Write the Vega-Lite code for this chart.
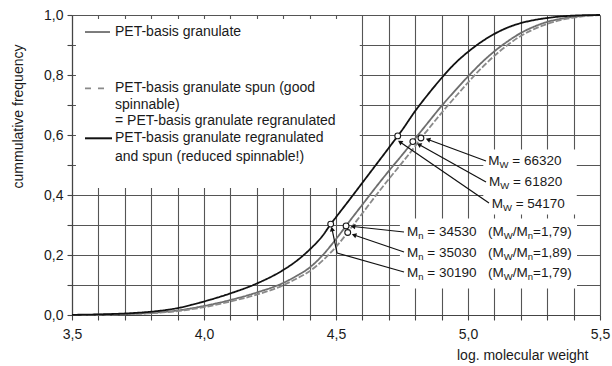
{
  "$schema": "https://vega.github.io/schema/vega-lite/v6.json",
  "width": 528,
  "height": 300,
  "autosize": {"type": "none"},
  "padding": {"left": 72, "top": 15, "right": 12, "bottom": 51},
  "background": "white",
  "data": {"values": [{}]},
  "config": {
    "view": {"stroke": null},
    "font": "Liberation Sans",
    "text": {"font": "Liberation Sans", "fontSize": 13.5, "color": "#1a1a1a", "align": "left", "baseline": "middle"},
    "axis": {
      "grid": true, "gridColor": "#555555", "gridWidth": 1.1, "gridOpacity": 1,
      "domainColor": "#444444", "domainWidth": 1.2,
      "tickColor": "#444444", "tickSize": 5, "tickWidth": 1.1, "tickCount": 40,
      "labelFont": "Liberation Sans", "labelFontSize": 14, "labelColor": "#1a1a1a",
      "labelOverlap": false, "labelFlush": false, "labelBound": false,
      "titleFont": "Liberation Sans", "titleFontSize": 14, "titleFontWeight": "normal", "titleColor": "#1a1a1a"
    }
  },
  "datasets": {
    "curves": [
      {"sample": "granulate", "logM": 3.5, "F": 0.0003},
      {"sample": "granulate", "logM": 3.6, "F": 0.001},
      {"sample": "granulate", "logM": 3.7, "F": 0.003},
      {"sample": "granulate", "logM": 3.8, "F": 0.007},
      {"sample": "granulate", "logM": 3.9, "F": 0.015},
      {"sample": "granulate", "logM": 4.0, "F": 0.03},
      {"sample": "granulate", "logM": 4.1, "F": 0.05},
      {"sample": "granulate", "logM": 4.2, "F": 0.075},
      {"sample": "granulate", "logM": 4.3, "F": 0.107},
      {"sample": "granulate", "logM": 4.35, "F": 0.13},
      {"sample": "granulate", "logM": 4.4, "F": 0.158},
      {"sample": "granulate", "logM": 4.45, "F": 0.2},
      {"sample": "granulate", "logM": 4.5, "F": 0.253},
      {"sample": "granulate", "logM": 4.538, "F": 0.297},
      {"sample": "granulate", "logM": 4.55, "F": 0.311},
      {"sample": "granulate", "logM": 4.6, "F": 0.368},
      {"sample": "granulate", "logM": 4.65, "F": 0.425},
      {"sample": "granulate", "logM": 4.7, "F": 0.48},
      {"sample": "granulate", "logM": 4.75, "F": 0.533},
      {"sample": "granulate", "logM": 4.791, "F": 0.578},
      {"sample": "granulate", "logM": 4.8, "F": 0.588},
      {"sample": "granulate", "logM": 4.85, "F": 0.643},
      {"sample": "granulate", "logM": 4.9, "F": 0.697},
      {"sample": "granulate", "logM": 4.95, "F": 0.747},
      {"sample": "granulate", "logM": 5.0, "F": 0.795},
      {"sample": "granulate", "logM": 5.05, "F": 0.84},
      {"sample": "granulate", "logM": 5.1, "F": 0.879},
      {"sample": "granulate", "logM": 5.15, "F": 0.912},
      {"sample": "granulate", "logM": 5.2, "F": 0.94},
      {"sample": "granulate", "logM": 5.25, "F": 0.961},
      {"sample": "granulate", "logM": 5.3, "F": 0.977},
      {"sample": "granulate", "logM": 5.35, "F": 0.987},
      {"sample": "granulate", "logM": 5.4, "F": 0.994},
      {"sample": "granulate", "logM": 5.45, "F": 0.998},
      {"sample": "granulate", "logM": 5.5, "F": 1.0},
      {"sample": "granulate spun", "logM": 3.5, "F": 0.0002},
      {"sample": "granulate spun", "logM": 3.6, "F": 0.0008},
      {"sample": "granulate spun", "logM": 3.7, "F": 0.0025},
      {"sample": "granulate spun", "logM": 3.8, "F": 0.006},
      {"sample": "granulate spun", "logM": 3.9, "F": 0.013},
      {"sample": "granulate spun", "logM": 4.0, "F": 0.026},
      {"sample": "granulate spun", "logM": 4.1, "F": 0.045},
      {"sample": "granulate spun", "logM": 4.2, "F": 0.068},
      {"sample": "granulate spun", "logM": 4.3, "F": 0.099},
      {"sample": "granulate spun", "logM": 4.35, "F": 0.121},
      {"sample": "granulate spun", "logM": 4.4, "F": 0.146},
      {"sample": "granulate spun", "logM": 4.45, "F": 0.182},
      {"sample": "granulate spun", "logM": 4.5, "F": 0.227},
      {"sample": "granulate spun", "logM": 4.544, "F": 0.275},
      {"sample": "granulate spun", "logM": 4.55, "F": 0.282},
      {"sample": "granulate spun", "logM": 4.6, "F": 0.339},
      {"sample": "granulate spun", "logM": 4.65, "F": 0.397},
      {"sample": "granulate spun", "logM": 4.7, "F": 0.453},
      {"sample": "granulate spun", "logM": 4.75, "F": 0.507},
      {"sample": "granulate spun", "logM": 4.8, "F": 0.563},
      {"sample": "granulate spun", "logM": 4.822, "F": 0.59},
      {"sample": "granulate spun", "logM": 4.85, "F": 0.62},
      {"sample": "granulate spun", "logM": 4.9, "F": 0.674},
      {"sample": "granulate spun", "logM": 4.95, "F": 0.725},
      {"sample": "granulate spun", "logM": 5.0, "F": 0.775},
      {"sample": "granulate spun", "logM": 5.05, "F": 0.822},
      {"sample": "granulate spun", "logM": 5.1, "F": 0.864},
      {"sample": "granulate spun", "logM": 5.15, "F": 0.9},
      {"sample": "granulate spun", "logM": 5.2, "F": 0.93},
      {"sample": "granulate spun", "logM": 5.25, "F": 0.953},
      {"sample": "granulate spun", "logM": 5.3, "F": 0.97},
      {"sample": "granulate spun", "logM": 5.35, "F": 0.983},
      {"sample": "granulate spun", "logM": 5.4, "F": 0.991},
      {"sample": "granulate spun", "logM": 5.45, "F": 0.997},
      {"sample": "granulate spun", "logM": 5.5, "F": 1.0},
      {"sample": "regranulated and spun", "logM": 3.5, "F": 0.0005},
      {"sample": "regranulated and spun", "logM": 3.6, "F": 0.002},
      {"sample": "regranulated and spun", "logM": 3.7, "F": 0.005},
      {"sample": "regranulated and spun", "logM": 3.8, "F": 0.011},
      {"sample": "regranulated and spun", "logM": 3.9, "F": 0.023},
      {"sample": "regranulated and spun", "logM": 4.0, "F": 0.045},
      {"sample": "regranulated and spun", "logM": 4.1, "F": 0.072},
      {"sample": "regranulated and spun", "logM": 4.2, "F": 0.105},
      {"sample": "regranulated and spun", "logM": 4.3, "F": 0.15},
      {"sample": "regranulated and spun", "logM": 4.35, "F": 0.18},
      {"sample": "regranulated and spun", "logM": 4.4, "F": 0.218},
      {"sample": "regranulated and spun", "logM": 4.45, "F": 0.265},
      {"sample": "regranulated and spun", "logM": 4.48, "F": 0.303},
      {"sample": "regranulated and spun", "logM": 4.5, "F": 0.326},
      {"sample": "regranulated and spun", "logM": 4.55, "F": 0.383},
      {"sample": "regranulated and spun", "logM": 4.6, "F": 0.441},
      {"sample": "regranulated and spun", "logM": 4.65, "F": 0.499},
      {"sample": "regranulated and spun", "logM": 4.7, "F": 0.557},
      {"sample": "regranulated and spun", "logM": 4.734, "F": 0.597},
      {"sample": "regranulated and spun", "logM": 4.75, "F": 0.616},
      {"sample": "regranulated and spun", "logM": 4.8, "F": 0.68},
      {"sample": "regranulated and spun", "logM": 4.85, "F": 0.737},
      {"sample": "regranulated and spun", "logM": 4.9, "F": 0.79},
      {"sample": "regranulated and spun", "logM": 4.95, "F": 0.838},
      {"sample": "regranulated and spun", "logM": 5.0, "F": 0.877},
      {"sample": "regranulated and spun", "logM": 5.05, "F": 0.91},
      {"sample": "regranulated and spun", "logM": 5.1, "F": 0.937},
      {"sample": "regranulated and spun", "logM": 5.15, "F": 0.958},
      {"sample": "regranulated and spun", "logM": 5.2, "F": 0.973},
      {"sample": "regranulated and spun", "logM": 5.25, "F": 0.983},
      {"sample": "regranulated and spun", "logM": 5.3, "F": 0.99},
      {"sample": "regranulated and spun", "logM": 5.35, "F": 0.995},
      {"sample": "regranulated and spun", "logM": 5.4, "F": 0.998},
      {"sample": "regranulated and spun", "logM": 5.45, "F": 0.9995},
      {"sample": "regranulated and spun", "logM": 5.5, "F": 1.0}
    ],
    "averages": [
      {"sample": "regranulated and spun", "stat": "Mw", "M": 54170, "logM": 4.7338, "F": 0.597},
      {"sample": "granulate", "stat": "Mw", "M": 61820, "logM": 4.7911, "F": 0.578},
      {"sample": "granulate spun", "stat": "Mw", "M": 66320, "logM": 4.8217, "F": 0.59},
      {"sample": "regranulated and spun", "stat": "Mn", "M": 30190, "logM": 4.4799, "F": 0.303},
      {"sample": "granulate", "stat": "Mn", "M": 34530, "logM": 4.5382, "F": 0.297},
      {"sample": "granulate spun", "stat": "Mn", "M": 35030, "logM": 4.5444, "F": 0.275}
    ]
  },
  "layer": [
    {
      "mark": {"type": "rect", "fill": "white"},
      "encoding": {
        "x": {
          "datum": 3.515,
          "scale": {"domain": [3.5, 5.5], "nice": false, "zero": false},
          "axis": {
            "values": [3.5, 3.6, 3.7, 3.8, 3.9, 4.0, 4.1, 4.2, 4.3, 4.4, 4.5, 4.6, 4.7, 4.8, 4.9, 5.0, 5.1, 5.2, 5.3, 5.4, 5.5],
            "labelExpr": "abs(datum.value * 2 - round(datum.value * 2)) < 0.01 ? replace(format(datum.value, '.1f'), '.', ',') : ''",
            "labelPadding": 7,
            "title": "log. molecular weight",
            "titleAnchor": "end", "titleAlign": "right", "titleX": 516, "titleY": 40, "titleBaseline": "middle"
          }
        },
        "x2": {"datum": 4.59},
        "y": {
          "datum": 0.987,
          "scale": {"domain": [0, 1], "nice": false, "zero": false},
          "axis": {
            "values": [0, 0.1, 0.2, 0.3, 0.4, 0.5, 0.6, 0.7, 0.8, 0.9, 1.0],
            "labelExpr": "abs(datum.value * 5 - round(datum.value * 5)) < 0.01 ? replace(format(datum.value, '.1f'), '.', ',') : ''",
            "labelPadding": 4,
            "title": "cummulative frequency",
            "titleX": -54, "titleY": 101, "titleAlign": "center", "titleBaseline": "middle"
          }
        },
        "y2": {"datum": 0.423}
      }
    },
    {"mark": {"type": "rect", "fill": "white"},
     "encoding": {"x": {"datum": 5.058}, "x2": {"datum": 5.412}, "y": {"datum": 0.552}, "y2": {"datum": 0.335}}},
    {"mark": {"type": "rect", "fill": "white"},
     "encoding": {"x": {"datum": 4.742}, "x2": {"datum": 5.413}, "y": {"datum": 0.322}, "y2": {"datum": 0.088}}},
    {
      "data": {"name": "curves"},
      "mark": {"type": "line", "strokeWidth": 1.8, "interpolate": "monotone"},
      "encoding": {
        "x": {"field": "logM", "type": "quantitative"},
        "y": {"field": "F", "type": "quantitative"},
        "color": {
          "field": "sample", "type": "nominal",
          "scale": {"domain": ["granulate", "granulate spun", "regranulated and spun"], "range": ["#6e6e6e", "#8a8a8a", "#111111"]},
          "legend": null
        },
        "strokeDash": {
          "field": "sample", "type": "nominal",
          "scale": {"domain": ["granulate", "granulate spun", "regranulated and spun"], "range": [[1, 0], [6, 2], [1, 0]]},
          "legend": null
        }
      }
    },
    {"mark": {"type": "rule", "color": "#6e6e6e", "strokeWidth": 1.8},
     "encoding": {"x": {"datum": 3.5492}, "x2": {"datum": 3.6439}, "y": {"datum": 0.9433}}},
    {"mark": {"type": "rule", "color": "#8a8a8a", "strokeWidth": 1.8, "strokeDash": [6, 7]},
     "encoding": {"x": {"datum": 3.5492}, "x2": {"datum": 3.625}, "y": {"datum": 0.7557}}},
    {"mark": {"type": "rule", "color": "#111111", "strokeWidth": 2},
     "encoding": {"x": {"datum": 3.5492}, "x2": {"datum": 3.6515}, "y": {"datum": 0.589}}},
    {
      "encoding": {"x": {"datum": 3.6629}},
      "layer": [
        {"mark": {"type": "text", "text": "PET-basis granulate", "fontSize": 14}, "encoding": {"y": {"datum": 0.9433}}},
        {"mark": {"type": "text", "text": "PET-basis granulate spun (good", "fontSize": 14}, "encoding": {"y": {"datum": 0.7557}}},
        {"mark": {"type": "text", "text": "spinnable)", "fontSize": 14}, "encoding": {"y": {"datum": 0.70}}},
        {"mark": {"type": "text", "text": "= PET-basis granulate regranulated", "fontSize": 14}, "encoding": {"y": {"datum": 0.6477}}},
        {"mark": {"type": "text", "text": "PET-basis granulate regranulated", "fontSize": 14}, "encoding": {"y": {"datum": 0.589}}},
        {"mark": {"type": "text", "text": "and spun (reduced spinnable!)", "fontSize": 14}, "encoding": {"y": {"datum": 0.5277}}}
      ]
    },
    {"mark": {"type": "rule", "color": "#111111", "strokeWidth": 1.2},
     "encoding": {"x": {"datum": 5.0682}, "y": {"datum": 0.5133}, "x2": {"datum": 4.8485}, "y2": {"datum": 0.585}}},
    {"mark": {"type": "rule", "color": "#111111", "strokeWidth": 1.2},
     "encoding": {"x": {"datum": 5.0682}, "y": {"datum": 0.4433}, "x2": {"datum": 4.8144}, "y2": {"datum": 0.5683}}},
    {"mark": {"type": "rule", "color": "#111111", "strokeWidth": 1.2},
     "encoding": {"x": {"datum": 5.0795}, "y": {"datum": 0.3733}, "x2": {"datum": 4.7424}, "y2": {"datum": 0.5767}}},
    {"mark": {"type": "rule", "color": "#111111", "strokeWidth": 1.2},
     "encoding": {"x": {"datum": 4.7576}, "y": {"datum": 0.2767}, "x2": {"datum": 4.5644}, "y2": {"datum": 0.295}}},
    {"mark": {"type": "rule", "color": "#111111", "strokeWidth": 1.2},
     "encoding": {"x": {"datum": 4.7576}, "y": {"datum": 0.21}, "x2": {"datum": 4.5682}, "y2": {"datum": 0.2667}}},
    {"mark": {"type": "rule", "color": "#111111", "strokeWidth": 1.2},
     "encoding": {"x": {"datum": 4.7576}, "y": {"datum": 0.1433}, "x2": {"datum": 4.5038}, "y2": {"datum": 0.2067}}},
    {"mark": {"type": "rule", "color": "#111111", "strokeWidth": 1.2},
     "encoding": {"x": {"datum": 4.5038}, "y": {"datum": 0.2067}, "x2": {"datum": 4.4848}, "y2": {"datum": 0.2867}}},
    {"mark": {"type": "point", "shape": "triangle-up", "filled": true, "color": "#111111", "opacity": 1, "size": 28, "angle": 290},
     "encoding": {"x": {"datum": 4.8485}, "y": {"datum": 0.585}}},
    {"mark": {"type": "point", "shape": "triangle-up", "filled": true, "color": "#111111", "opacity": 1, "size": 28, "angle": 299},
     "encoding": {"x": {"datum": 4.8144}, "y": {"datum": 0.5683}}},
    {"mark": {"type": "point", "shape": "triangle-up", "filled": true, "color": "#111111", "opacity": 1, "size": 28, "angle": 304},
     "encoding": {"x": {"datum": 4.7424}, "y": {"datum": 0.5767}}},
    {"mark": {"type": "point", "shape": "triangle-up", "filled": true, "color": "#111111", "opacity": 1, "size": 28, "angle": 276},
     "encoding": {"x": {"datum": 4.5644}, "y": {"datum": 0.295}}},
    {"mark": {"type": "point", "shape": "triangle-up", "filled": true, "color": "#111111", "opacity": 1, "size": 28, "angle": 289},
     "encoding": {"x": {"datum": 4.5682}, "y": {"datum": 0.2667}}},
    {"mark": {"type": "point", "shape": "triangle-up", "filled": true, "color": "#111111", "opacity": 1, "size": 28, "angle": 348},
     "encoding": {"x": {"datum": 4.4848}, "y": {"datum": 0.2867}}},
    {
      "data": {"name": "averages"},
      "mark": {"type": "point", "shape": "circle", "filled": true, "fill": "white", "stroke": "#1a1a1a", "strokeWidth": 1.1, "size": 34, "opacity": 1},
      "encoding": {"x": {"field": "logM", "type": "quantitative"}, "y": {"field": "F", "type": "quantitative"}}
    },
    {
      "encoding": {"x": {"datum": 5.0769}, "y": {"datum": 0.5133}},
      "layer": [
        {"mark": {"type": "text", "text": "M"}},
        {"mark": {"type": "text", "text": "W", "fontSize": 9.5, "dx": 11.3, "dy": 4}},
        {"mark": {"type": "text", "text": "= 66320", "dx": 24}}
      ]
    },
    {
      "encoding": {"x": {"datum": 5.0795}, "y": {"datum": 0.4433}},
      "layer": [
        {"mark": {"type": "text", "text": "M"}},
        {"mark": {"type": "text", "text": "W", "fontSize": 9.5, "dx": 11.3, "dy": 4}},
        {"mark": {"type": "text", "text": "= 61820", "dx": 24}}
      ]
    },
    {
      "encoding": {"x": {"datum": 5.0898}, "y": {"datum": 0.37}},
      "layer": [
        {"mark": {"type": "text", "text": "M"}},
        {"mark": {"type": "text", "text": "W", "fontSize": 9.5, "dx": 11.3, "dy": 4}},
        {"mark": {"type": "text", "text": "= 54170", "dx": 24}}
      ]
    },
    {
      "encoding": {"x": {"datum": 4.7689}, "y": {"datum": 0.2777}},
      "layer": [
        {"mark": {"type": "text", "text": "M"}},
        {"mark": {"type": "text", "text": "n", "fontSize": 9.5, "dx": 11.3, "dy": 4}},
        {"mark": {"type": "text", "text": "= 34530", "dx": 20.3}},
        {"mark": {"type": "text", "text": "(M", "dx": 81}},
        {"mark": {"type": "text", "text": "W", "fontSize": 9.5, "dx": 96.8, "dy": 4}},
        {"mark": {"type": "text", "text": "/M", "dx": 105.8}},
        {"mark": {"type": "text", "text": "n", "fontSize": 9.5, "dx": 120.8, "dy": 4}},
        {"mark": {"type": "text", "text": "=1,79)", "dx": 126.1}}
      ]
    },
    {
      "encoding": {"x": {"datum": 4.7689}, "y": {"datum": 0.2077}},
      "layer": [
        {"mark": {"type": "text", "text": "M"}},
        {"mark": {"type": "text", "text": "n", "fontSize": 9.5, "dx": 11.3, "dy": 4}},
        {"mark": {"type": "text", "text": "= 35030", "dx": 20.3}},
        {"mark": {"type": "text", "text": "(M", "dx": 81}},
        {"mark": {"type": "text", "text": "W", "fontSize": 9.5, "dx": 96.8, "dy": 4}},
        {"mark": {"type": "text", "text": "/M", "dx": 105.8}},
        {"mark": {"type": "text", "text": "n", "fontSize": 9.5, "dx": 120.8, "dy": 4}},
        {"mark": {"type": "text", "text": "=1,89)", "dx": 126.1}}
      ]
    },
    {
      "encoding": {"x": {"datum": 4.7689}, "y": {"datum": 0.139}},
      "layer": [
        {"mark": {"type": "text", "text": "M"}},
        {"mark": {"type": "text", "text": "n", "fontSize": 9.5, "dx": 11.3, "dy": 4}},
        {"mark": {"type": "text", "text": "= 30190", "dx": 20.3}},
        {"mark": {"type": "text", "text": "(M", "dx": 81}},
        {"mark": {"type": "text", "text": "W", "fontSize": 9.5, "dx": 96.8, "dy": 4}},
        {"mark": {"type": "text", "text": "/M", "dx": 105.8}},
        {"mark": {"type": "text", "text": "n", "fontSize": 9.5, "dx": 120.8, "dy": 4}},
        {"mark": {"type": "text", "text": "=1,79)", "dx": 126.1}}
      ]
    }
  ]
}
